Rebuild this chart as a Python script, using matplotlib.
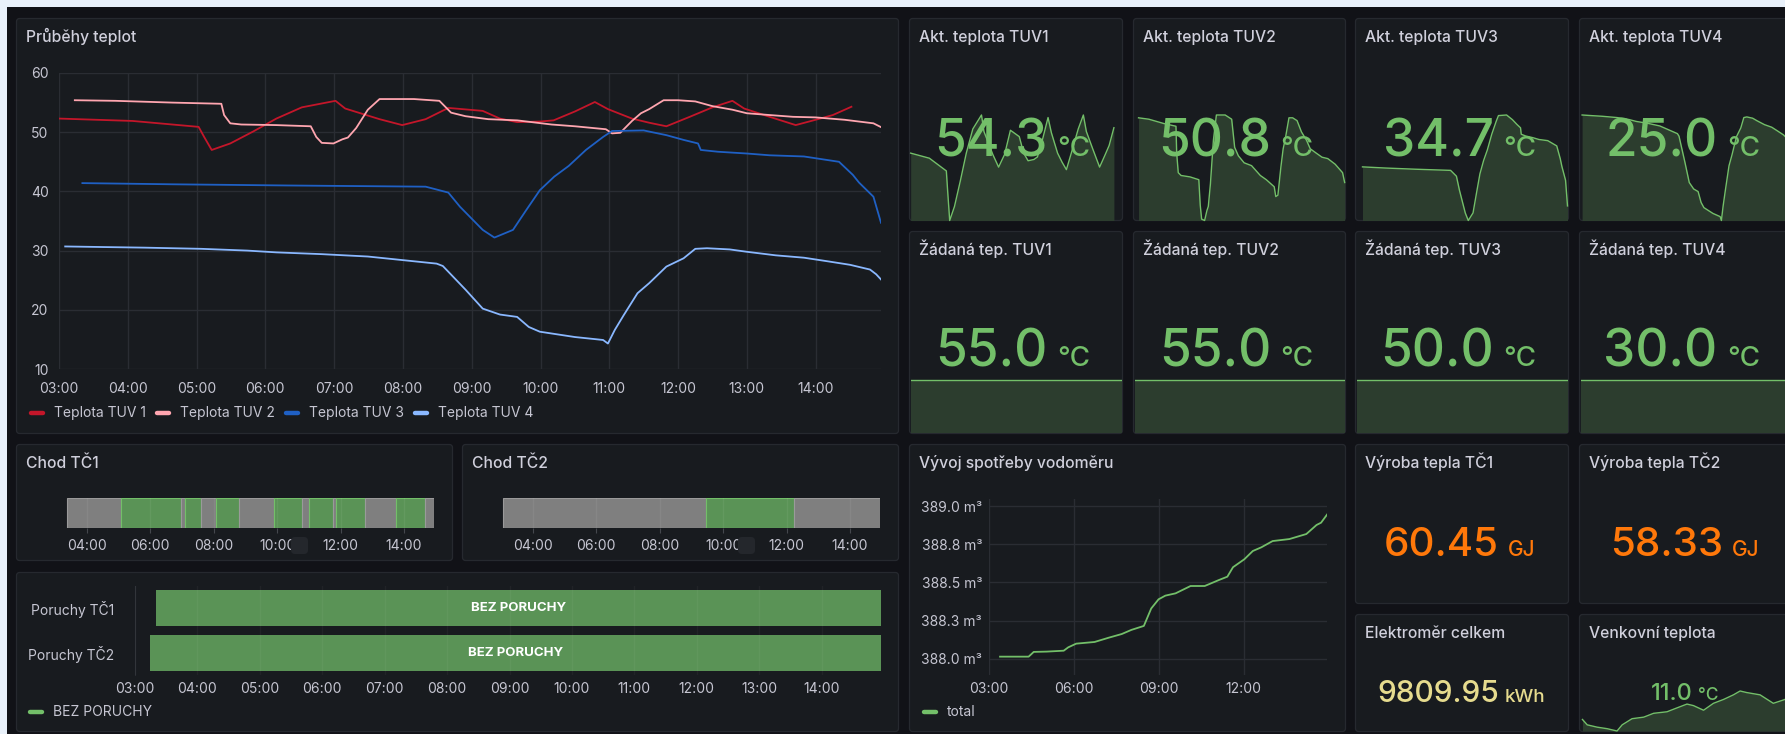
import matplotlib
matplotlib.use("Agg")
import matplotlib.pyplot as plt
from matplotlib.patches import FancyBboxPatch
from matplotlib.ticker import FuncFormatter

W, H = 1785, 734
DPI = 100
plt.rcParams['font.family'] = ['Inter', 'DejaVu Sans']

# ---------------- data ----------------
TIME_RANGE = (3.0, 14.95)   # hours of the day shown by the dashboard

tuv1_t = [3.01, 4.07, 5.03, 5.11, 5.22, 5.49, 5.82, 6.16, 6.53, 7.02, 7.16, 7.66, 7.99, 8.33, 8.66,
          9.16, 9.41, 9.66, 9.99, 10.19, 10.50, 10.79, 10.98, 11.33, 11.58, 11.83, 12.17, 12.50,
          12.79, 12.96, 13.33, 13.71, 14.00, 14.25, 14.52]
tuv1_v = [52.3, 51.9, 50.9, 49.2, 47.0, 48.1, 50.1, 52.3, 54.2, 55.3, 54.0, 52.2, 51.2, 52.2, 54.1,
          53.6, 52.3, 51.7, 51.8, 52.0, 53.5, 55.1, 53.9, 52.3, 51.6, 51.0, 52.6, 54.2,
          55.3, 54.0, 52.6, 51.2, 52.1, 52.9, 54.3]

tuv2_t = [3.23, 3.82, 4.65, 5.36, 5.40, 5.49, 5.65, 6.16, 6.66, 6.74, 6.82, 6.99, 7.12, 7.20, 7.32,
          7.49, 7.66, 8.16, 8.53, 8.70, 8.91, 9.24, 9.66, 10.16, 10.50, 10.95, 11.04, 11.16, 11.33,
          11.46, 11.58, 11.79, 12.00, 12.25, 12.50, 12.79, 13.00, 13.33, 13.67, 14.00, 14.42, 14.84, 14.96]
tuv2_v = [55.4, 55.3, 55.0, 54.8, 52.9, 51.5, 51.3, 51.2, 51.0, 49.2, 48.2, 48.1, 48.8, 49.1, 50.7,
          53.8, 55.6, 55.6, 55.3, 53.3, 52.7, 52.2, 52.0, 51.3, 51.0, 50.5, 49.8, 49.9, 51.9,
          53.2, 53.9, 55.4, 55.4, 55.2, 54.4, 53.8, 53.2, 52.9, 52.6, 52.5, 52.1, 51.5, 50.8]

tuv3_t = [3.34, 4.65, 6.32, 8.33, 8.66, 8.83, 9.16, 9.33, 9.60, 9.79, 9.99, 10.20, 10.41, 10.66,
          10.91, 11.04, 11.50, 11.83, 12.08, 12.29, 12.33, 12.58, 13.00, 13.33, 13.83, 14.34, 14.54,
          14.63, 14.84, 14.95]
tuv3_v = [41.4, 41.2, 41.0, 40.8, 39.8, 37.4, 33.5, 32.2, 33.5, 36.8, 40.2, 42.5, 44.3, 47.0,
          49.2, 50.2, 50.3, 49.5, 48.7, 48.1, 47.0, 46.7, 46.4, 46.1, 45.9, 45.0, 42.8,
          41.5, 39.1, 34.7]

tuv4_t = [3.09, 3.65, 4.24, 5.07, 5.74, 6.16, 6.82, 7.49, 7.99, 8.49, 8.58, 8.91, 9.16, 9.41, 9.66,
          9.83, 9.99, 10.33, 10.50, 10.83, 10.91, 10.98, 11.08, 11.21, 11.41, 11.58, 11.83, 12.08,
          12.25, 12.42, 12.75, 13.00, 13.42, 13.83, 14.17, 14.50, 14.79, 14.88, 14.96]
tuv4_v = [30.7, 30.6, 30.5, 30.3, 30.0, 29.7, 29.4, 29.0, 28.4, 27.8, 27.4, 23.4, 20.2, 19.2, 18.8,
          17.1, 16.3, 15.7, 15.4, 15.0, 14.9, 14.3, 16.6, 19.1, 22.8, 24.5, 27.3, 28.7,
          30.3, 30.4, 30.2, 29.8, 29.2, 28.8, 28.2, 27.6, 26.8, 26.0, 25.0]

series_names = ["Teplota TUV 1", "Teplota TUV 2", "Teplota TUV 3", "Teplota TUV 4"]
series_colors = ["#c4162a", "#ffa6b0", "#1f60c4", "#8ab8ff"]

setpoint_names = ["Žádaná tep. TUV1", "Žádaná tep. TUV2", "Žádaná tep. TUV3", "Žádaná tep. TUV4"]
setpoint_values = [55.0, 55.0, 50.0, 30.0]

# heat pump run state (1 = running)
tc1_bounds = [3.37, 5.07, 6.96, 7.09, 7.59, 8.06, 8.79, 9.89, 10.77, 10.99, 11.75, 11.87, 12.76,
              13.76, 14.68, 14.95]
tc1_states = [0, 1, 0, 1, 0, 1, 0, 1, 0, 1, 0, 1, 0, 1, 0]
tc2_bounds = [3.05, 9.46, 12.23, 14.98]
tc2_states = [0, 1, 0]

fault_rows = ["Poruchy TČ1", "Poruchy TČ2"]
fault_start = [3.34, 3.24]
fault_end = [14.95, 14.95]
fault_state = "BEZ PORUCHY"

vodomer_t = [3.39, 4.40, 4.58, 5.04, 5.64, 5.80, 6.08, 6.73, 7.23, 7.69, 8.03, 8.47, 8.73, 8.99,
             9.23, 9.59, 10.12, 10.62, 11.12, 11.42, 11.62, 12.02, 12.32, 12.62, 13.02, 13.61,
             13.81, 14.21, 14.57, 14.73, 14.95]
vodomer_v = [388.015, 388.015, 388.046, 388.048, 388.054, 388.076, 388.100, 388.111, 388.139,
             388.163, 388.190, 388.216, 388.330, 388.390, 388.414, 388.429, 388.477, 388.477,
             388.516, 388.538, 388.600, 388.652, 388.706, 388.730, 388.771, 388.784, 388.795,
             388.817, 388.876, 388.891, 388.946]
vodomer_ticks = [388.0, 388.25, 388.5, 388.75, 389.0]
vodomer_labels = ["388.0 m³", "388.3 m³", "388.5 m³", "388.8 m³", "389.0 m³"]

vyroba_names = ["Výroba tepla TČ1", "Výroba tepla TČ2"]
vyroba_values = [60.45, 58.33]
elektromer_value = 9809.95

venk_t = [3.11, 3.38, 3.94, 4.51, 5.07, 5.36, 5.92, 6.58, 7.14, 7.90, 8.46, 9.03, 9.40, 9.97,
          10.53, 11.10, 11.66, 12.04, 12.41, 13.17, 13.92, 14.58, 14.95]
venk_v = [7.6, 6.9, 6.6, 6.4, 6.1, 6.9, 7.7, 7.9, 8.4, 8.6, 9.1, 9.6, 9.4, 8.8,
          9.7, 10.2, 10.8, 11.3, 11.1, 10.8, 9.7, 10.2, 11.0]

# ---------------- style ----------------
PAGE = "#e9f1fa"
CANVAS = "#111217"
PANEL = "#181b1f"
BORDER = "#26292f"
TITLE = "#d0d0dc"
TICK = "#c6c6d2"
GRID = "#2a2d33"
GREEN = "#73bf69"
SPARK_FILL = "#2c3d2e"
STATE_GREEN = "#5a9356"
STATE_GRAY = "#7f7f7f"
STATE_GRAY_EDGE = "#9a9a9a"
ORANGE = "#ff780a"
YELLOW = "#e6db8e"
VALUE_WEIGHT = 500

fig = plt.figure(figsize=(W / DPI, H / DPI), dpi=DPI)
fig.patch.set_facecolor(PAGE)


def px_axes(x0, y0, x1, y1, z=1):
    return fig.add_axes([x0 / W, 1 - y1 / H, (x1 - x0) / W, (y1 - y0) / H], zorder=z)


bg = px_axes(0, 0, W, H, z=0)
bg.set_xlim(0, W); bg.set_ylim(H, 0); bg.axis('off')
fg = px_axes(0, 0, W, H, z=10)
fg.set_xlim(0, W); fg.set_ylim(H, 0); fg.axis('off')
fg.patch.set_visible(False)

bg.add_patch(FancyBboxPatch((7, 7), W, H, boxstyle="round,pad=0,rounding_size=0", fc=CANVAS, ec='none'))


def panel(x0, y0, x1, y1, title=None):
    bg.add_patch(FancyBboxPatch((x0 + 0.5, y0 + 0.5), x1 - x0 - 1, y1 - y0 - 1,
                                boxstyle="round,pad=0,rounding_size=3",
                                fc=PANEL, ec=BORDER, lw=0.9))
    if title:
        bg.text(x0 + 10, y0 + 24, title, color=TITLE, fontsize=11.3, fontweight='medium',
                ha='left', va='baseline')


def hhmm(x, pos=None):
    return f"{int(round(x)):02d}:00"


def style_axes(ax):
    ax.set_facecolor('none')
    for s in ax.spines.values():
        s.set_visible(False)


def legend_entry(x, y, color, label):
    fg.plot([x + 2, x + 14], [y, y], color=color, lw=3.2, solid_capstyle='round')
    fg.text(x + 25, y, label, color=TICK, fontsize=10, ha='left', va='center')


# ---------------- panel layout ----------------
cols = [(909, 1123), (1133, 1346), (1355, 1569), (1579, 1793)]

panel(16, 18, 899, 434, "Průběhy teplot")
for i, (x0, x1) in enumerate(cols):
    panel(x0, 18, x1, 221, f"Akt. teplota TUV{i + 1}")
    panel(x0, 231, x1, 434, setpoint_names[i])
panel(16, 444, 453, 561, "Chod TČ1")
panel(462, 444, 899, 561, "Chod TČ2")
panel(16, 572, 899, 732)
panel(909, 444, 1346, 732, "Vývoj spotřeby vodoměru")
panel(1355, 444, 1569, 604, vyroba_names[0])
panel(1579, 444, 1793, 604, vyroba_names[1])
panel(1355, 614, 1569, 732, "Elektroměr celkem")
panel(1579, 614, 1793, 732, "Venkovní teplota")

# ---------------- main temperature chart ----------------
all_t = [tuv1_t, tuv2_t, tuv3_t, tuv4_t]
all_v = [tuv1_v, tuv2_v, tuv3_v, tuv4_v]

ax = px_axes(59, 73, 881, 369)
style_axes(ax)
for t, v, c in zip(all_t, all_v, series_colors):
    ax.plot(t, v, color=c, lw=1.3)
ax.set_xlim(*TIME_RANGE)
ax.set_ylim(10, 60)
ax.set_xticks(range(3, 15))
ax.set_yticks(range(10, 61, 10))
ax.xaxis.set_major_formatter(FuncFormatter(hhmm))
ax.grid(True, color=GRID, lw=1, alpha=1)
ax.set_axisbelow(True)
ax.tick_params(length=0, labelcolor=TICK, labelsize=10)
ax.tick_params(axis='x', pad=9)
ax.tick_params(axis='y', pad=7.5)

for x, c, lab in zip([29, 155, 284, 413], series_colors, series_names):
    legend_entry(x, 413, c, lab)

# ---------------- stat panels with sparklines ----------------
for i, (x0, x1) in enumerate(cols):
    t, v = all_t[i], all_v[i]
    lo, hi = min(v), max(v)
    sp = px_axes(x0 + 1.5, 115, x1 - 1.5, 220.5)
    sp.fill_between(t, v, lo, color=SPARK_FILL, lw=0)
    sp.plot(t, v, color=GREEN, lw=1.0, clip_on=False)
    sp.set_xlim(*TIME_RANGE); sp.set_ylim(lo, hi); sp.axis('off')
    cx = (x0 + x1) / 2
    fg.text(cx + 31.5, 156.5, f"{v[-1]:.1f}", color=GREEN, fontsize=37, fontweight=VALUE_WEIGHT,
            ha='right', va='baseline')
    fg.text(cx + 41, 156.5, "°C", color=GREEN, fontsize=20, fontweight=VALUE_WEIGHT,
            ha='left', va='baseline')

    sv = setpoint_values[i]
    sp2 = px_axes(x0 + 1.5, 327, x1 - 1.5, 433)
    sp2.fill_between(TIME_RANGE, [sv, sv], sv - 1, color=SPARK_FILL, lw=0)
    sp2.plot(TIME_RANGE, [sv, sv], color=GREEN, lw=1.0)
    sp2.set_xlim(*TIME_RANGE); sp2.set_ylim(sv - 1, sv + 1); sp2.axis('off')
    fg.text(cx + 31.5, 366.5, f"{sv:.1f}", color=GREEN, fontsize=37, fontweight=VALUE_WEIGHT,
            ha='right', va='baseline')
    fg.text(cx + 41, 366.5, "°C", color=GREEN, fontsize=20, fontweight=VALUE_WEIGHT,
            ha='left', va='baseline')

# ---------------- Chod TČ state timelines ----------------
def state_timeline(x0, bounds, states):
    a = px_axes(x0, 498, x0 + 378.7, 528)
    style_axes(a)
    for s, e, st in zip(bounds[:-1], bounds[1:], states):
        a.barh(0, e - s, left=s, height=1.0,
               color=STATE_GREEN if st else STATE_GRAY,
               edgecolor=GREEN if st else STATE_GRAY_EDGE, lw=0.8)
    a.set_xlim(*TIME_RANGE); a.set_ylim(-0.5, 0.5)
    a.set_yticks([])
    a.set_xticks(range(4, 15, 2))
    a.xaxis.set_major_formatter(FuncFormatter(hhmm))
    a.grid(True, axis='x', color='#ffffff', alpha=0.06, lw=1)
    a.set_axisbelow(False)
    a.tick_params(axis='x', length=3.6, color="#44474d", labelcolor=TICK, labelsize=10, pad=4.5)
    return a


state_timeline(55.3, tc1_bounds, tc1_states)
state_timeline(501.3, tc2_bounds, tc2_states)
for bx in (291, 738):
    fg.add_patch(FancyBboxPatch((bx, 537), 17, 17, boxstyle="round,pad=0,rounding_size=4",
                                fc="#24272c", ec='none'))

# ---------------- Poruchy ----------------
ap = px_axes(135, 586, 881, 675)
style_axes(ap)
ap.spines['left'].set_visible(True)
ap.spines['left'].set_color(GRID)
ap.barh(range(len(fault_rows)), [e - s for s, e in zip(fault_start, fault_end)], left=fault_start,
        height=0.82, color=STATE_GREEN, lw=0)
for i, (s, e) in enumerate(zip(fault_start, fault_end)):
    ap.text((s + e) / 2, i, fault_state, color='white', fontsize=9.5, fontweight='bold',
            ha='center', va='center')
ap.set_xlim(*TIME_RANGE); ap.set_ylim(1.5, -0.5)
ap.set_yticks(range(len(fault_rows)))
ap.set_yticklabels(fault_rows)
ap.set_xticks(range(3, 15))
ap.xaxis.set_major_formatter(FuncFormatter(hhmm))
ap.grid(True, axis='x', color='#ffffff', alpha=0.04, lw=1)
ap.set_axisbelow(False)
ap.tick_params(length=0, labelcolor=TICK, labelsize=10)
ap.tick_params(axis='x', pad=5)
ap.tick_params(axis='y', pad=15)
legend_entry(28, 712, GREEN, fault_state)

# ---------------- Vývoj spotřeby vodoměru ----------------
av = px_axes(989, 499, 1327, 675)
style_axes(av)
av.plot(vodomer_t, vodomer_v, color=GREEN, lw=1.3)
av.set_xlim(3.0, 14.94)
av.set_ylim(387.895, 389.046)
av.set_yticks(vodomer_ticks)
av.set_yticklabels(vodomer_labels)
av.set_xticks([3, 6, 9, 12])
av.xaxis.set_major_formatter(FuncFormatter(hhmm))
av.grid(True, color=GRID, lw=1, alpha=1)
av.set_axisbelow(True)
av.tick_params(length=0, labelcolor=TICK, labelsize=10)
av.tick_params(axis='x', pad=5)
av.tick_params(axis='y', pad=5)
legend_entry(922, 712, GREEN, "total")

# ---------------- Výroba / Elektroměr / Venkovní ----------------
for (x0, x1), val in zip(cols[2:], vyroba_values):
    cx = (x0 + x1) / 2
    fg.text(cx + 37, 556, f"{val:.2f}", color=ORANGE, fontsize=29, fontweight=VALUE_WEIGHT,
            ha='right', va='baseline')
    fg.text(cx + 45.5, 556, "GJ", color=ORANGE, fontsize=15, fontweight=VALUE_WEIGHT,
            ha='left', va='baseline')

cx = (cols[2][0] + cols[2][1]) / 2
fg.text(cx + 37, 702, f"{elektromer_value:.2f}", color=YELLOW, fontsize=21.5, fontweight=VALUE_WEIGHT,
        ha='right', va='baseline')
fg.text(cx + 43, 702, "kWh", color=YELLOW, fontsize=13.5, fontweight=VALUE_WEIGHT,
        ha='left', va='baseline')

x0, x1 = cols[3]
vs = px_axes(x0 + 1.5, 691, x1 - 1.5, 731)
vlo, vhi = min(venk_v), max(venk_v)
vs.fill_between(venk_t, venk_v, vlo, color=SPARK_FILL, lw=0)
vs.plot(venk_t, venk_v, color=GREEN, lw=1.0, clip_on=False)
vs.set_xlim(*TIME_RANGE); vs.set_ylim(vlo, vhi); vs.axis('off')
cx = (x0 + x1) / 2
fg.text(cx + 7, 700, f"{venk_v[-1]:.1f}", color=GREEN, fontsize=17, fontweight=VALUE_WEIGHT,
        ha='right', va='baseline')
fg.text(cx + 12, 700, "°C", color=GREEN, fontsize=12.5, fontweight=VALUE_WEIGHT,
        ha='left', va='baseline')

fig.savefig("out.png", dpi=DPI, facecolor=fig.get_facecolor())
